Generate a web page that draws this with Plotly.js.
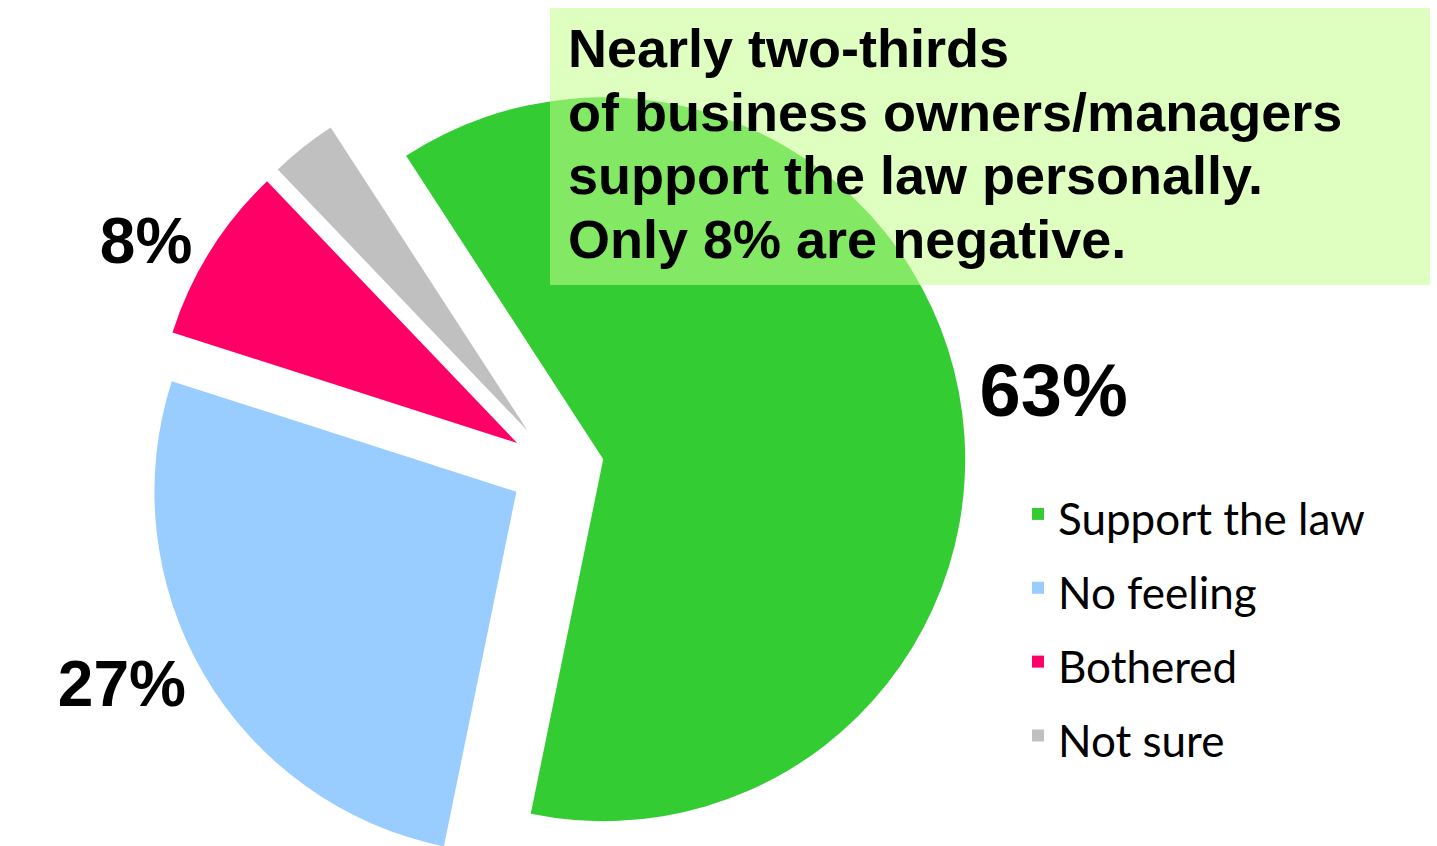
<!DOCTYPE html>
<html>
<head>
<meta charset="utf-8">
<script src="https://cdn.plot.ly/plotly-3.0.1.min.js"></script>
<style>
  html, body { margin: 0; padding: 0; background: #fff; overflow: hidden; }
  #wrap { width: 1437px; height: 846px; overflow: hidden; }
</style>
</head>
<body>
<div id="wrap"><div id="chart"></div></div>
<script>
// ---- data ----
const categories = ['Support the law', 'No feeling', 'Bothered', 'Not sure'];
const shares = [63, 27, 8, 3];
const showLabel = [true, true, true, false];
const headlineLines = [
  'Nearly two-thirds',
  'of business owners/managers',
  'support the law personally.',
  'Only 8% are negative.'
];

// ---- styling ----
const colors = ['#33CC33', '#99CCFF', '#FF0066', '#C0C0C0'];
const labelSizes = [74, 64, 64, 64];

const W = 1437, H = 936;

const trace = {
  type: 'pie',
  labels: categories.map(c => '<span style="font-size:44px">' + c + '</span>'),
  values: shares,
  sort: false,
  direction: 'clockwise',
  rotation: -33,
  pull: categories.map(() => 0.13),
  marker: { colors: colors, line: { width: 0 } },
  texttemplate: showLabel.map(s => s ? '%{value}%' : ''),
  textposition: 'outside',
  textfont: { family: 'Liberation Sans, Arial, sans-serif', size: labelSizes, color: '#000', weight: 'bold' },
  hoverinfo: 'skip',
  domain: { x: [148 / W, 966 / W], y: [0, 1] },
  showlegend: true
};

const headline = headlineLines
  .map(l => '<span style="font-size:54px">' + l + '</span>')
  .join('<br>');

const layout = {
  width: W,
  height: H,
  margin: { l: 0, r: 0, t: 0, b: 0 },
  paper_bgcolor: '#ffffff',
  plot_bgcolor: '#ffffff',
  font: { family: 'Lato, Liberation Sans, sans-serif', color: '#000' },
  showlegend: true,
  legend: {
    x: 1018 / W, xanchor: 'left',
    y: 1 - 625 / H, yanchor: 'middle',
    font: { family: 'Lato, sans-serif', size: 54.5, color: '#000' },
    bgcolor: 'rgba(0,0,0,0)',
    itemclick: false, itemdoubleclick: false
  },
  shapes: [{
    type: 'rect', xref: 'paper', yref: 'paper', layer: 'above',
    x0: 550 / W, x1: 1430 / W, y0: 1 - 285 / H, y1: 1 - 8 / H,
    fillcolor: 'rgba(196,255,140,0.55)',
    line: { width: 0 }
  }],
  annotations: [{
    xref: 'paper', yref: 'paper',
    x: 568 / W, y: 1 - 18 / H,
    xanchor: 'left', yanchor: 'top',
    borderpad: 0, borderwidth: 0,
    align: 'left',
    showarrow: false,
    text: headline,
    font: { family: 'Liberation Sans, Arial, sans-serif', size: 49, color: '#000', weight: 'bold' }
  }]
};

Plotly.newPlot('chart', [trace], layout, { displayModeBar: false, staticPlot: true });
</script>
</body>
</html>
